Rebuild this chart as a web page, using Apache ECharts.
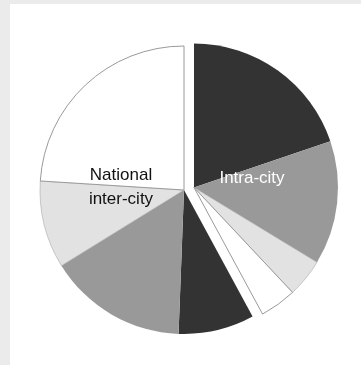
<!DOCTYPE html>
<html>
<head>
<meta charset="utf-8">
<script src="https://cdn.jsdelivr.net/npm/echarts@6/dist/echarts.min.js"></script>
<style>html,body{margin:0;padding:0;background:#ebebeb;}#c{width:361px;height:365px;}</style>
</head>
<body>
<div id="c"></div>
<script>
// Shares (%) clockwise from 12 o'clock
var intraCityValues = [19.8, 13.9, 4.3, 4.1];
var nationalValues = [8.5, 15.6, 9.8, 24.0];
var sliceColors = ['#333333', '#999999', '#e2e2e2', '#ffffff'];
var groupLabels = ['Intra-city', 'National\ninter-city'];

var sum = function (a) { return a.reduce(function (s, v) { return s + v; }, 0); };
var intraSum = sum(intraCityValues), natSum = sum(nationalValues), total = intraSum + natSum;

var baseCenter = [184, 190];
var R = 144;
var explode = 10.3;
var mid = (intraSum / total) * Math.PI; // bisector angle from 12 o'clock, clockwise
var intraCenter = [baseCenter[0] + explode * Math.sin(mid), baseCenter[1] - explode * Math.cos(mid)];

function sliceStyle(i) {
  var c = sliceColors[i];
  return c === '#ffffff' || c === '#e2e2e2'
    ? { color: c, borderColor: '#9a9a9a', borderWidth: c === '#ffffff' ? 1 : 0.5 }
    : { color: c, borderWidth: 0 };
}
var placeholder = function (v) {
  return { value: v, itemStyle: { color: 'rgba(0,0,0,0)', borderWidth: 0 } };
};

var intraData = intraCityValues.map(function (v, i) { return { value: v, itemStyle: sliceStyle(i) }; });
intraData.push(placeholder(natSum));
var natData = [placeholder(intraSum)].concat(nationalValues.map(function (v, i) {
  return { value: v, itemStyle: sliceStyle(i) };
}));

var chart = echarts.init(document.getElementById('c'), null, { renderer: 'canvas' });
var common = {
  type: 'pie', radius: [0, R], startAngle: 90, clockwise: true, silent: true,
  label: { show: false }, labelLine: { show: false }, emphasis: { disabled: true },
  avoidLabelOverlap: false, minAngle: 0, animation: false
};
chart.setOption({
  backgroundColor: '#ebebeb',
  animation: false,
  graphic: [
    { type: 'rect', z: -10, shape: { x: 10, y: 4, width: 351, height: 361 }, style: { fill: '#ffffff' } },
    { type: 'text', z: 100, x: 252, y: 178,
      style: { text: groupLabels[0], fill: '#ffffff', font: '17px "Liberation Sans", Arial, sans-serif', align: 'center', verticalAlign: 'middle' } },
    { type: 'text', z: 100, x: 121, y: 187,
      style: { text: groupLabels[1], fill: '#111111', font: '17px "Liberation Sans", Arial, sans-serif', lineHeight: 24, align: 'center', verticalAlign: 'middle' } }
  ],
  series: [
    Object.assign({}, common, { center: baseCenter, data: natData }),
    Object.assign({}, common, { center: intraCenter, data: intraData })
  ]
});
</script>
</body>
</html>
